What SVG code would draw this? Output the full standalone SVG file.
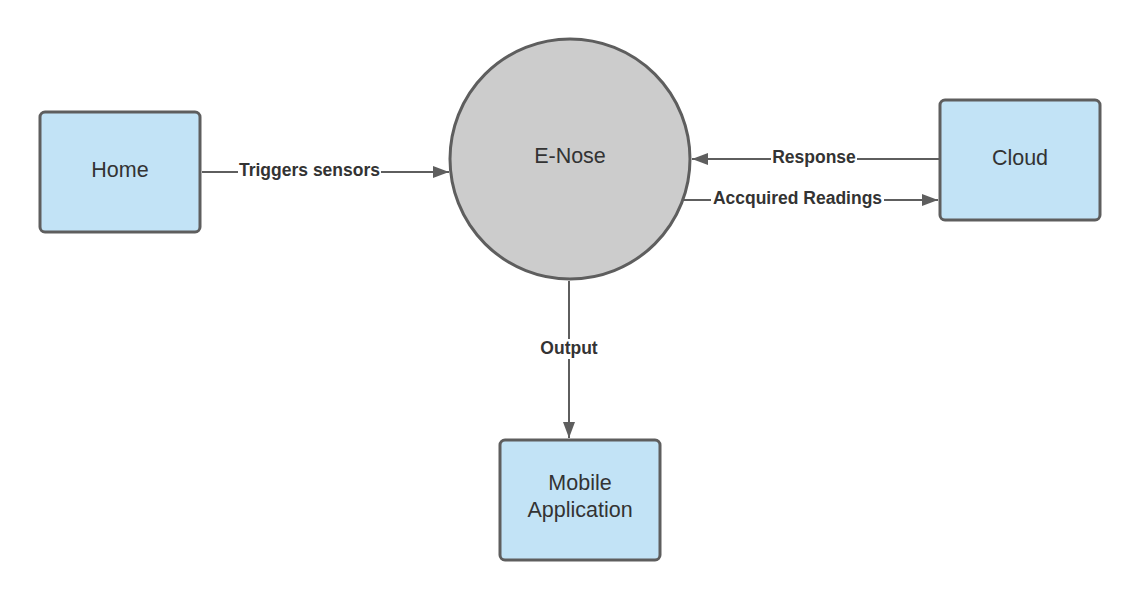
<svg xmlns="http://www.w3.org/2000/svg" width="1140" height="600" viewBox="0 0 1140 600">
<style>
.box{fill:#c2e3f6;stroke:#5e5e5e;stroke-width:3}
.circ{fill:#cccccc;stroke:#5e5e5e;stroke-width:3}
.lbl{font-family:"Liberation Sans",Arial,sans-serif;font-size:21.5px;fill:#333333;text-anchor:middle;dominant-baseline:central}
.edge{stroke:#5e5e5e;stroke-width:2;fill:none}
.elbl{font-family:"Liberation Sans",Arial,sans-serif;font-size:17.5px;font-weight:bold;fill:#333333;text-anchor:middle;dominant-baseline:central}
.bg{fill:#ffffff}
</style>
<defs>
<marker id="ah" viewBox="0 0 16 12" refX="16" refY="6" markerWidth="16" markerHeight="12" markerUnits="userSpaceOnUse" orient="auto">
<path d="M0,0 L16,6 L0,12 Z" fill="#5e5e5e"/>
</marker>
</defs>
<rect width="1140" height="600" fill="#ffffff"/>
<g id="connectors">
<g id="e-home">
<line class="edge" x1="202" y1="172" x2="449" y2="172" marker-end="url(#ah)"/>
<rect class="bg" x="238" y="162" width="143" height="20"/>
<text class="elbl" x="309.5" y="170">Triggers sensors</text>
</g>
<g id="e-response">
<line class="edge" x1="939" y1="159" x2="692" y2="159" marker-end="url(#ah)"/>
<rect class="bg" x="771" y="149" width="86" height="20"/>
<text class="elbl" x="814" y="157">Response</text>
</g>
<g id="e-readings">
<line class="edge" x1="684" y1="200" x2="938" y2="200" marker-end="url(#ah)"/>
<rect class="bg" x="711" y="189" width="173" height="20"/>
<text class="elbl" x="797.5" y="198">Accquired Readings</text>
</g>
<g id="e-output">
<line class="edge" x1="569" y1="281" x2="569" y2="438" marker-end="url(#ah)"/>
<rect class="bg" x="538" y="339" width="62" height="20"/>
<text class="elbl" x="569" y="348">Output</text>
</g>
</g>
<g id="home">
<rect class="box" x="40" y="112" width="160" height="120" rx="5"/>
<text class="lbl" x="120" y="170">Home</text>
</g>
<g id="enose">
<circle class="circ" cx="570" cy="159" r="120"/>
<text class="lbl" x="570" y="156">E-Nose</text>
</g>
<g id="cloud">
<rect class="box" x="940" y="100" width="160" height="120" rx="5"/>
<text class="lbl" x="1020" y="158">Cloud</text>
</g>
<g id="mobile">
<rect class="box" x="500" y="440" width="160" height="120" rx="5"/>
<text class="lbl" x="580" y="483">Mobile</text>
<text class="lbl" x="580" y="510">Application</text>
</g>
</svg>
